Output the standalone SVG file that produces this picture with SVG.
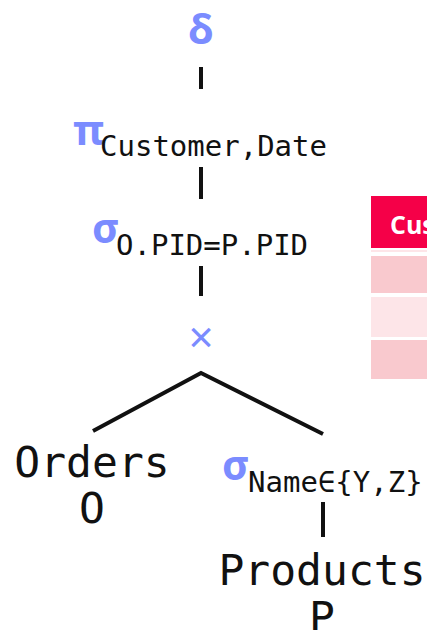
<svg xmlns="http://www.w3.org/2000/svg" width="427" height="630" viewBox="0 0 427 630">
<style>
.op{font-family:"Noto Sans","Open Sans",sans-serif;font-weight:bold;fill:#7b8cff;font-size:42px}
.x{font-family:"Noto Sans","DejaVu Sans",sans-serif;fill:#7b8cff;font-size:44px}
.sub{font-family:"DejaVu Sans Mono",monospace;fill:#111;font-size:29px}
.rel{font-family:"DejaVu Sans Mono",monospace;fill:#111;font-size:43px}
.edge{stroke:#111;stroke-width:4;fill:none}
.hd{font-family:"Open Sans","Noto Sans",sans-serif;font-weight:bold;fill:#fff;font-size:25px}
</style>
<rect width="427" height="630" fill="#fff"/>
<g id="connectors">
<line class="edge" x1="201" y1="67" x2="201" y2="89"/>
<line class="edge" x1="201" y1="167" x2="201" y2="199"/>
<line class="edge" x1="201" y1="266" x2="201" y2="296"/>
<polyline class="edge" points="93,431 201,373 323,434"/>
<line class="edge" x1="323" y1="502" x2="323" y2="537"/>
</g>
<g id="dedup"><text class="op" x="201" y="44" text-anchor="middle">δ</text></g>
<g id="project"><text x="73" y="145"><tspan class="op">π</tspan><tspan class="sub" x="100" y="156">Customer,Date</tspan></text></g>
<g id="select-join"><text x="92" y="243"><tspan class="op">σ</tspan><tspan class="sub" x="116" y="255">O.PID=P.PID</tspan></text></g>
<g id="cross"><text class="x" x="201" y="353" text-anchor="middle">×</text></g>
<g id="orders"><text class="rel" x="92" y="477" text-anchor="middle">Orders</text><text class="rel" x="92" y="523" text-anchor="middle">O</text></g>
<g id="select-name"><text x="222" y="480"><tspan class="op">σ</tspan><tspan class="sub" x="248" y="492">Name∈{Y,Z}</tspan></text></g>
<g id="products"><text class="rel" x="322" y="585" text-anchor="middle">Products</text><text class="rel" x="322" y="632" text-anchor="middle">P</text></g>
<g id="table">
<rect x="371" y="196" width="56" height="52" fill="#f50048"/>
<text class="hd" x="390" y="234">Customer</text>
<rect x="371" y="250" width="56" height="2" fill="#fde5e8"/>
<rect x="371" y="256" width="56" height="37" fill="#f9c9ce"/>
<rect x="371" y="297" width="56" height="40" fill="#fde5e8"/>
<rect x="371" y="340" width="56" height="39" fill="#f9c9ce"/>
</g>
</svg>
